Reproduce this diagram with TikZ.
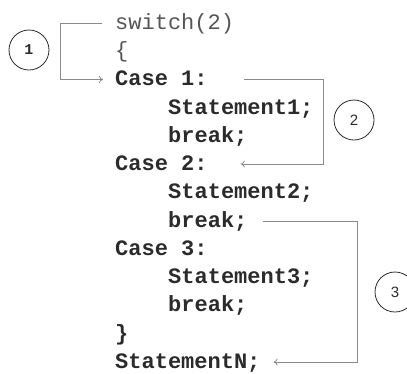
\documentclass[tikz,border=0pt]{standalone}
\usepackage{fontspec}
\setmonofont{Liberation Mono}
\newfontfamily\labfont{Liberation Sans}
\usepackage{tikz}
\usetikzlibrary{arrows.meta}

\definecolor{codegray}{HTML}{2B2B2B}
\definecolor{lightcode}{HTML}{555555}
\definecolor{flowgray}{HTML}{8A8A8A}

\begin{document}
\begin{tikzpicture}[x=1pt,y=-1pt,>={To[length=4pt,width=7pt]},
  code/.style={anchor=west,inner sep=0pt,text height=12pt,text depth=0pt,text=codegray,
    font=\fontsize{22}{26}\selectfont\ttfamily\bfseries},
  plain/.style={code,text=lightcode,font=\fontsize{22}{26}\selectfont\ttfamily},
  flow/.style={draw=flowgray,line width=0.8pt,->},
  badge/.style={draw=codegray,circle,line width=0.8pt,minimum size=40pt,inner sep=0pt,text=codegray,
    font=\fontsize{15}{18}\selectfont\labfont}]
\useasboundingbox (0,0) rectangle (407,373);
% code lines
\node[plain] (sw) at (115,23) {switch(2)};
\node[plain] (ob) at (115,51) {\{};
\node[code] (c1) at (115,79.5) {Case 1:};
\node[code] (s1) at (168,108) {Statement1;};
\node[code] (b1) at (168,136) {break;};
\node[code] (c2) at (115,164) {Case 2:};
\node[code] (s2) at (168,192.5) {Statement2;};
\node[code] (b2) at (168,221) {break;};
\node[code] (c3) at (115,249) {Case 3:};
\node[code] (s3) at (168,277) {Statement3;};
\node[code] (b3) at (168,305.5) {break;};
\node[code] (cb) at (115,334) {\}};
\node[code] (sn) at (115,362) {StatementN;};
% numbered steps
\node[badge] (n1) at (29,50) {\ttfamily\bfseries 1};
\node[badge] (n2) at (354,120) {2};
\node[badge] (n3) at (395,292) {3};
% jumps
\draw[flow] ([xshift=-13pt]sw.west) -- ++(-42,0) |- ([xshift=-12pt]c1.west);
\coordinate (r2) at ([xshift=10pt]s1.east);
\draw[flow] ([xshift=36pt]c1.east) -- (r2 |- c1.east) -- (r2 |- c2.east) -- ([xshift=33pt]c2.east);
\coordinate (r3) at ([xshift=44pt]s3.east);
\draw[flow] ([xshift=15pt]b2.east) -- (r3 |- b2.east) -- (r3 |- sn.east) -- ([xshift=13pt]sn.east);
\end{tikzpicture}
\end{document}
